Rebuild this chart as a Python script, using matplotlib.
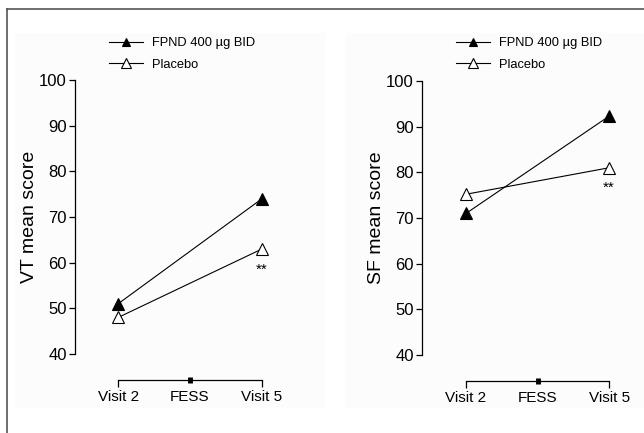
import matplotlib.pyplot as plt
from matplotlib.lines import Line2D
from matplotlib.patches import Rectangle

plt.rcParams['font.family'] = ['Liberation Sans', 'DejaVu Sans']

# data
visits = ['Visit 2', 'FESS', 'Visit 5']
visit_x = [0, 2]          # only Visit 2 and Visit 5 were measured
vt_fpnd = [51, 74]
vt_placebo = [48, 63]
sf_fpnd = [71, 92.3]
sf_placebo = [75.2, 81]
y_ticks = [40, 50, 60, 70, 80, 90, 100]

W, H = 644, 433
fig = plt.figure(figsize=(W / 100, H / 100), dpi=100)

# outer frame (clipped at right and bottom) and faint panel backgrounds
fig.add_artist(Rectangle((15 / W, 1 - 408 / H), 310 / W, 375 / H,
                         transform=fig.transFigure, fc='#fcfcfc', ec='none', zorder=-5))
fig.add_artist(Rectangle((345 / W, 1 - 408 / H), 299 / W, 375 / H,
                         transform=fig.transFigure, fc='#fcfcfc', ec='none', zorder=-5))
fig.add_artist(Line2D([7 / W, 7 / W], [0, 1 - 9 / H], transform=fig.transFigure,
                      color='#555555', lw=1.2))
fig.add_artist(Line2D([7 / W, 1], [1 - 9 / H, 1 - 9 / H], transform=fig.transFigure,
                      color='#555555', lw=1.2))


def panel(rect, xlim, fpnd, placebo, ylabel, star_y, leg_xy):
    ax = fig.add_axes(rect)
    ax.patch.set_alpha(0)
    ax.plot(visit_x, fpnd, color='black', lw=0.8, marker='^', ms=8,
            mfc='black', mec='black', mew=0.8, label='FPND 400 \u00b5g BID', clip_on=False)
    ax.plot(visit_x, placebo, color='black', lw=0.8, marker='^', ms=9,
            mfc='white', mec='black', mew=0.8, label='Placebo', clip_on=False)
    ax.text(2, star_y, '**', ha='center', va='center', fontsize=11)

    ax.set_xlim(*xlim)
    ax.set_ylim(40, 100)
    ax.set_yticks(y_ticks)
    ax.set_xticks([0, 1, 2])
    ax.set_xticklabels(visits)
    for s in ['top', 'right']:
        ax.spines[s].set_visible(False)
    ax.spines['left'].set_bounds(40, 100)
    ax.spines['bottom'].set_bounds(0, 2)
    ax.spines['bottom'].set_position(('outward', 19))
    for s in ['left', 'bottom']:
        ax.spines[s].set_linewidth(0.9)
    ax.tick_params(axis='y', direction='out', length=4, width=0.9, labelsize=12, pad=2)
    ax.tick_params(axis='x', direction='out', length=5, width=0.9, labelsize=11, pad=2)
    # FESS: short thick mark centred on the axis line
    fess = ax.xaxis.get_major_ticks()[1]
    fess.tick1line.set_marker('|')
    fess.tick1line.set_markersize(5)
    fess.tick1line.set_markeredgewidth(3.5)
    ax.set_ylabel(ylabel, fontsize=14, labelpad=1)

    ax.legend(loc='upper left', bbox_to_anchor=leg_xy, bbox_transform=fig.transFigure,
              frameon=False, fontsize=9.3, handlelength=2.6, handletextpad=0.7,
              labelspacing=0.75, borderpad=0, borderaxespad=0, markerscale=0.75)
    return ax


panel([75 / W, 1 - 354 / H, 215 / W, 274 / H], (-0.6, 2.39),
      vt_fpnd, vt_placebo, 'VT mean score', 58.4, (109 / W, 1 - 37 / H))
panel([422 / W, 1 - 355 / H, 215 / W, 274 / H], (-0.615, 2.39),
      sf_fpnd, sf_placebo, 'SF mean score', 76.6, (456 / W, 1 - 37 / H))

fig.savefig('out.png', dpi=100)
